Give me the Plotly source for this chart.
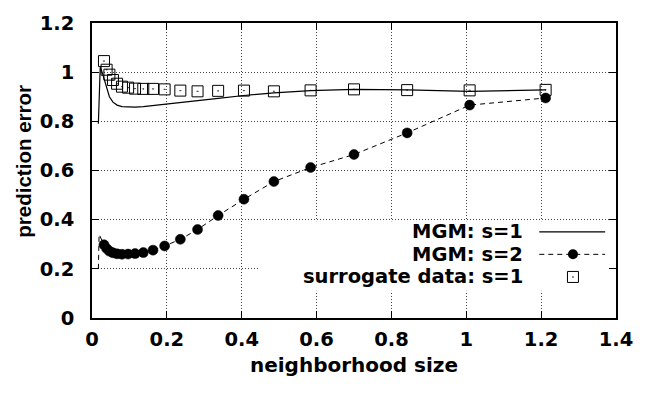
import plotly.graph_objects as go

# ---- data ----
x_mgm1 = [0.017, 0.022, 0.027, 0.032, 0.039, 0.0465, 0.056, 0.067, 0.080, 0.0965, 0.115, 0.137,
          0.163, 0.194, 0.236, 0.282, 0.337, 0.406, 0.486, 0.584, 0.700, 0.842, 1.009, 1.212]
y_mgm1 = [0.79, 1.02, 1.00, 0.975, 0.935, 0.90, 0.878, 0.866, 0.860, 0.858, 0.858, 0.860,
          0.864, 0.869, 0.876, 0.884, 0.893, 0.905, 0.916, 0.925, 0.930, 0.928, 0.922, 0.928]

x_mgm2 = [0.017, 0.019, 0.032, 0.039, 0.0465, 0.056, 0.067, 0.080, 0.0965, 0.115, 0.137, 0.163,
          0.194, 0.236, 0.282, 0.337, 0.406, 0.486, 0.584, 0.700, 0.842, 1.009, 1.212]
y_mgm2 = [0.20, 0.34, 0.298, 0.283, 0.272, 0.265, 0.261, 0.259, 0.260, 0.262, 0.266, 0.276,
          0.293, 0.320, 0.360, 0.417, 0.483, 0.555, 0.612, 0.665, 0.753, 0.866, 0.895]

x_sur = [0.032, 0.039, 0.0465, 0.056, 0.067, 0.080, 0.0965, 0.115, 0.137, 0.163, 0.194, 0.236,
         0.282, 0.337, 0.406, 0.486, 0.584, 0.700, 0.842, 1.009, 1.212]
y_sur = [1.045, 1.01, 0.99, 0.968, 0.953, 0.941, 0.937, 0.933, 0.932, 0.932, 0.930, 0.925,
         0.922, 0.924, 0.925, 0.922, 0.926, 0.930, 0.927, 0.926, 0.928]

x_ticks = [0, 0.2, 0.4, 0.6, 0.8, 1.0, 1.2, 1.4]
x_tick_labels = ["0", "0.2", "0.4", "0.6", "0.8", "1", "1.2", "1.4"]
y_ticks = [0, 0.2, 0.4, 0.6, 0.8, 1.0, 1.2]
y_tick_labels = ["0", "0.2", "0.4", "0.6", "0.8", "1", "1.2"]

legend_labels = ["MGM: s=1", "MGM: s=2", "surrogate data: s=1"]
x_title = "neighborhood size"
y_title = "prediction error"

WIDE = "DejaVu Sans, sans-serif"
ARIAL = "Liberation Sans, Arial, sans-serif"
DASH = "5px,4px"

fig = go.Figure()

fig.add_trace(go.Scatter(x=x_mgm1, y=y_mgm1, mode="lines",
                         line=dict(color="black", width=1.2), showlegend=False))

# MGM s=2: first two samples drawn by the dashed line only
msize = [0 if i < 2 else 10 for i in range(len(x_mgm2))]
fig.add_trace(go.Scatter(x=x_mgm2, y=y_mgm2, mode="lines",
                         line=dict(color="black", width=1, dash=DASH), showlegend=False))
fig.add_trace(go.Scatter(x=x_mgm2, y=y_mgm2, mode="markers",
                         marker=dict(color="#000000", size=msize, symbol="circle", opacity=1,
                                     line=dict(width=0.5, color="#000000")),
                         showlegend=False))

fig.add_trace(go.Scatter(x=x_sur, y=y_sur, mode="markers",
                         marker=dict(symbol="square-open-dot", size=11, color="black", opacity=1,
                                     line=dict(width=1, color="black")),
                         showlegend=False))

# opaque key area (hides grid behind the key)
fig.add_shape(type="rect", xref="x", yref="y", x0=0.449, x1=1.4, y0=0.111, y1=0.394,
              fillcolor="white", line=dict(width=0), layer="between")

# manual key: right-justified text, sample on the right
key_y = [0.350, 0.259, 0.167]
for lab, yy in zip(legend_labels, key_y):
    fig.add_annotation(x=1.155, y=yy, xref="x", yref="y", text=lab, showarrow=False,
                       xanchor="right", yanchor="middle", borderpad=0,
                       font=dict(family=WIDE, size=19.5, color="black", weight="bold"))

fig.add_shape(type="line", xref="x", yref="y", x0=1.195, x1=1.371, y0=key_y[0], y1=key_y[0],
              line=dict(color="black", width=1.2))
fig.add_shape(type="line", xref="x", yref="y", x0=1.195, x1=1.371, y0=key_y[1], y1=key_y[1],
              line=dict(color="black", width=1, dash=DASH))
fig.add_shape(type="circle", xref="x", yref="y", xsizemode="pixel", ysizemode="pixel",
              xanchor=1.285, yanchor=key_y[1], x0=-5, x1=5, y0=-5, y1=5,
              fillcolor="black", line=dict(width=0))
fig.add_shape(type="rect", xref="x", yref="y", xsizemode="pixel", ysizemode="pixel",
              xanchor=1.285, yanchor=key_y[2], x0=-5.5, x1=5.5, y0=-5.5, y1=5.5,
              fillcolor="rgba(0,0,0,0)", line=dict(width=1, color="black"))
fig.add_shape(type="circle", xref="x", yref="y", xsizemode="pixel", ysizemode="pixel",
              xanchor=1.285, yanchor=key_y[2], x0=-0.8, x1=0.8, y0=-0.8, y1=0.8,
              fillcolor="black", line=dict(width=0))

# y-axis title (placed as annotation so it sits where the original has it)
fig.add_annotation(x=0, y=0.53, xref="paper", yref="paper", xshift=-68, text=y_title,
                   textangle=-90, showarrow=False, xanchor="center", yanchor="middle",
                   font=dict(family=ARIAL, size=20.5, color="black", weight="bold"))

axis_common = dict(showline=True, linecolor="black", linewidth=1.5, mirror="ticks",
                   ticks="inside", ticklen=7, tickwidth=1, tickcolor="black",
                   showgrid=True, gridcolor="#444", gridwidth=1, griddash="1px,2px",
                   zeroline=False,
                   tickfont=dict(family=WIDE, size=19.5, color="black", weight="bold"))

fig.update_xaxes(range=[0, 1.4], tickvals=x_ticks, ticktext=x_tick_labels,
                 ticklabelstandoff=3,
                 title=dict(text=x_title, standoff=8,
                            font=dict(family=WIDE, size=20, color="black", weight="bold")),
                 **axis_common)
fig.update_yaxes(range=[0, 1.2], tickvals=y_ticks, ticktext=y_tick_labels,
                 ticklabelstandoff=12, **axis_common)

fig.update_layout(width=645, height=394,
                  margin=dict(l=92, r=21, t=16, b=76),
                  paper_bgcolor="white", plot_bgcolor="white",
                  showlegend=False)

fig.write_html("out.html")
